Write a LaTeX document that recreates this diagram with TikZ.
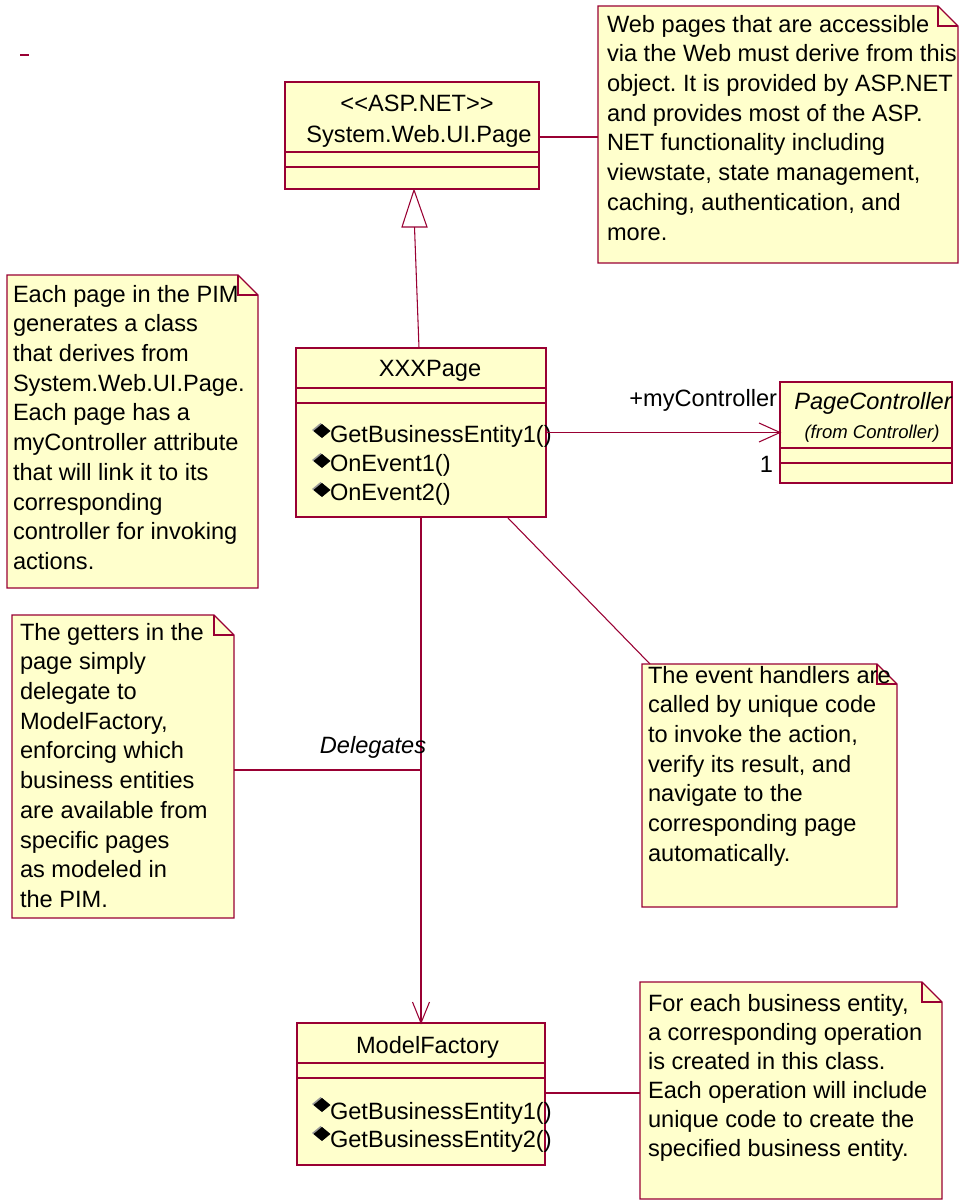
\documentclass[tikz,border=0pt]{standalone}
\usepackage{fontspec}
\newfontfamily\umlfont{Liberation Sans}
\usetikzlibrary{calc}
\definecolor{umlline}{RGB}{153,0,51}
\definecolor{umlfill}{RGB}{255,255,204}
\frenchspacing

% note with a folded top-right corner, drawn around an empty node
\newcommand\drawnote[1]{%
  \draw[noteline] (#1.north west) -- ($(#1.north east)+(-20,0)$)
    -- ($(#1.north east)+(0,20)$) -- (#1.south east) -- (#1.south west) -- cycle;
  \draw[noteline,fill=none] ($(#1.north east)+(-20,0)$) -- ($(#1.north east)+(-20,20)$)
    -- ($(#1.north east)+(0,20)$);}

\begin{document}
\begin{tikzpicture}[x=0.75pt,y=-0.75pt,
  every node/.style={inner sep=0pt,outer sep=0pt},
  uml/.style={font=\umlfont\fontsize{17.7}{22.3}\selectfont},
  notetext/.style={uml,align=left,anchor=north west},
  classbox/.style={draw=umlline,fill=umlfill,line width=0.9pt,rectangle},
  noteframe/.style={rectangle},
  noteline/.style={draw=umlline,fill=umlfill,line width=0.9pt},
  link/.style={draw=umlline,line width=0.8pt},
  opmark/.pic={
    \fill[black!40] (-1.5,-8) -- (7,-1) -- (-1.5,6) -- (-10,-1) -- cycle;
    \fill[black] (0,-7) -- (8.5,0) -- (0,7) -- (-8.5,0) -- cycle;}
]
\useasboundingbox (0,0) rectangle (963,1201);

% stray mark
\draw[umlline,line width=1.5pt] (20,55) -- (29,55);

% ---------- classes ----------
\node[classbox,minimum width=254*0.75pt,minimum height=107*0.75pt] (sys) at (412,135.5) {};
\draw[link] ($(sys.north west)+(0,70)$) -- ($(sys.north east)+(0,70)$);
\draw[link] ($(sys.north west)+(0,85)$) -- ($(sys.north east)+(0,85)$);
\node[uml,anchor=base] (sysster) at (417,112) {<<ASP.NET>>};
\node[uml,anchor=base] (sysname) at (419,143) {System.Web.UI.Page};

\node[classbox,minimum width=250*0.75pt,minimum height=169*0.75pt] (xxx) at (421,432.5) {};
\draw[link] ($(xxx.north west)+(0,40)$) -- ($(xxx.north east)+(0,40)$);
\draw[link] ($(xxx.north west)+(0,55)$) -- ($(xxx.north east)+(0,55)$);
\node[uml,anchor=base] (xxxname) at (430,377) {XXXPage};
\pic at (322,431) {opmark};
\node[uml,anchor=base west] (xxxop1) at (330,442) {GetBusinessEntity1()};
\pic at (322,461) {opmark};
\node[uml,anchor=base west] (xxxop2) at (330,471) {OnEvent1()};
\pic at (322,490) {opmark};
\node[uml,anchor=base west] (xxxop3) at (330,500) {OnEvent2()};

\node[classbox,minimum width=172*0.75pt,minimum height=101*0.75pt] (pc) at (866,432.5) {};
\draw[link] ($(pc.north west)+(0,66)$) -- ($(pc.north east)+(0,66)$);
\draw[link] ($(pc.north west)+(0,81)$) -- ($(pc.north east)+(0,81)$);
\node[uml,anchor=base,font=\umlfont\itshape\fontsize{17.7}{22.3}\selectfont] (pcname) at (873,409) {PageController};
\node[anchor=base,font=\umlfont\itshape\fontsize{13.9}{16}\selectfont] (pcfrom) at (872,438) {(from Controller)};

\node[classbox,minimum width=248*0.75pt,minimum height=142*0.75pt] (mf) at (421,1094) {};
\draw[link] ($(mf.north west)+(0,40)$) -- ($(mf.north east)+(0,40)$);
\draw[link] ($(mf.north west)+(0,55)$) -- ($(mf.north east)+(0,55)$);
\node[uml,anchor=base] (mfname) at (427.5,1053) {ModelFactory};
\pic at (322,1105) {opmark};
\node[uml,anchor=base west] (mfop1) at (330,1119) {GetBusinessEntity1()};
\pic at (322,1134) {opmark};
\node[uml,anchor=base west] (mfop2) at (330,1147) {GetBusinessEntity2()};

% ---------- notes ----------
\node[noteframe,minimum width=360*0.75pt,minimum height=257*0.75pt] (webnote) at (778,134.5) {};
\drawnote{webnote}
\node[notetext] (webtext) at (607,11.2) {\strut Web pages that are accessible\\
via the Web must derive from this\\
object. It is provided by ASP.NET\\
and provides most of the ASP.\\
NET functionality including\\
viewstate, state management,\\
caching, authentication, and\\
more.};

\node[noteframe,minimum width=251*0.75pt,minimum height=313*0.75pt] (pimnote) at (132.5,431.5) {};
\drawnote{pimnote}
\node[notetext] (pimtext) at (13,281.2) {\strut Each page in the PIM\\
generates a class\\
that derives from\\
System.Web.UI.Page.\\
Each page has a\\
myController attribute\\
that will link it to its\\
corresponding\\
controller for invoking\\
actions.};

\node[noteframe,minimum width=222*0.75pt,minimum height=303*0.75pt] (getnote) at (123,766.5) {};
\drawnote{getnote}
\node[notetext] (gettext) at (20,619.2) {\strut The getters in the\\
page simply\\
delegate to\\
ModelFactory,\\
enforcing which\\
business entities\\
are available from\\
specific pages\\
as modeled in\\
the PIM.};

\node[noteframe,minimum width=255*0.75pt,minimum height=243*0.75pt] (evnote) at (769.5,785.5) {};
\drawnote{evnote}
\node[notetext] (evtext) at (648,662.2) {\strut The event handlers are\\
called by unique code\\
to invoke the action,\\
verify its result, and\\
navigate to the\\
corresponding page\\
automatically.};

\node[noteframe,minimum width=302*0.75pt,minimum height=217*0.75pt] (biznote) at (791,1090.5) {};
\drawnote{biznote}
\node[notetext,font=\umlfont\fontsize{17.7}{21.75}\selectfont] (biztext) at (648,990.7) {\strut For each business entity,\\
a corresponding operation\\
is created in this class.\\
Each operation will include\\
unique code to create the\\
specified business entity.};

% ---------- connectors ----------
% note anchors
\draw[link] (sys.east |- 0,137) -- (webnote.west |- 0,137);
\coordinate (dg) at (421,770);
\draw[link] (getnote.east |- dg) -- (dg);
\draw[link] ($(xxx.south)+(87,1)$) -- ($(evnote.north west)+(8,0)$);
\draw[link] (mf.east |- 0,1093) -- (biznote.west |- 0,1093);

% generalization XXXPage -> System.Web.UI.Page
\coordinate (gentip) at ($(sys.south)+(2,1)$);
\draw[link] ($(xxx.north)+(-2,0)$) -- ($(gentip)+(0.5,37)$);
\draw[link,fill=white] (gentip) -- ++(-12,37) -- ++(25,0) -- cycle;

% association XXXPage -> PageController
\draw[link] (xxx.east) -- (pc.west);
\draw[link] ($(pc.west)+(-21,-9.5)$) -- (pc.west) -- ($(pc.west)+(-21,9.5)$);
\node[uml,anchor=base east] (rolename) at (777,406) {+myController};
\node[uml,anchor=base east] (mult) at (773,472) {1};

% dependency XXXPage -> ModelFactory
\draw[link] (xxx.south) -- (mf.north);
\draw[link] ($(mf.north)+(-8.5,-21)$) -- (mf.north) -- ($(mf.north)+(8.5,-21)$);
\node[uml,anchor=base,font=\umlfont\itshape\fontsize{17.7}{22.3}\selectfont] (deleg) at (373,753) {Delegates};
\end{tikzpicture}
\end{document}
